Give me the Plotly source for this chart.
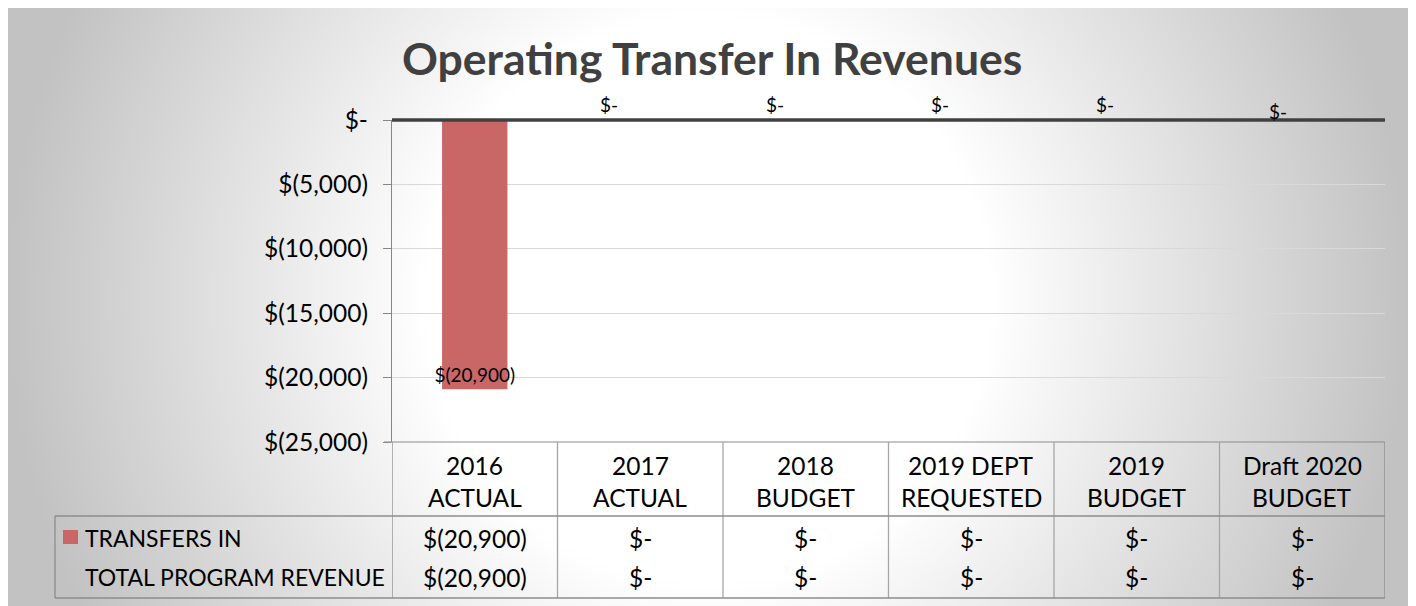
import base64
import plotly.graph_objects as go

# ---------------- data ----------------
col_line1 = ["2016", "2017", "2018", "2019 DEPT", "2019", "Draft 2020"]
col_line2 = ["ACTUAL", "ACTUAL", "BUDGET", "REQUESTED", "BUDGET", "BUDGET"]
categories = [a + " " + b for a, b in zip(col_line1, col_line2)]
transfers_in = [-20900, 0, 0, 0, 0, 0]
total_program_revenue = [-20900, 0, 0, 0, 0, 0]
row_labels = ["TRANSFERS IN", "TOTAL PROGRAM REVENUE"]
y_tickvals = [0, -5000, -10000, -15000, -20000, -25000]
title_text = "Operating Transfer In Revenues"


def money(v):
    if v == 0:
        return "$-"
    if v < 0:
        return "$({:,})".format(-v)
    return "${:,}".format(v)


y_ticktext = [money(v) for v in y_tickvals]

# ---------------- layout geometry (page pixels) ----------------
OFF = 8                      # default body margin of the html page
W, H = 1416 - OFF, 606 - OFF
PL, PR, PT, PB = 392, 1385, 120, 442   # plot area in page pixels
PW, PH = PR - PL, PB - PT


def px(x):
    return (x - PL) / PW


def py(y):
    return (PB - y) / PH


FONT = "Lato, 'Open Sans', sans-serif"
BAR_COLOR = "rgb(201,103,103)"
LINE_GRAY = "#8c8c8c"
INNER_GRAY = "#a6a6a6"

# ---------------- background radial gradient ----------------
bg_x0, bg_y0, bg_x1, bg_y1 = 8, 8, 1409, 606
bw, bh = bg_x1 - bg_x0, bg_y1 - bg_y0
svg = (
    f'<svg xmlns="http://www.w3.org/2000/svg" width="{bw}" height="{bh}" viewBox="0 0 {bw} {bh}">'
    f'<defs><radialGradient id="g" gradientUnits="userSpaceOnUse" cx="{708-bg_x0}" cy="{300-bg_y0}" r="{bw/2}">'
    '<stop offset="0" stop-color="#ffffff"/>'
    '<stop offset="0.40" stop-color="#ffffff"/>'
    '<stop offset="1" stop-color="#c2c2c2"/>'
    '</radialGradient></defs>'
    f'<rect x="0" y="0" width="{bw}" height="{bh}" fill="url(#g)"/></svg>'
)
svg_uri = "data:image/svg+xml;base64," + base64.b64encode(svg.encode()).decode()

fig = go.Figure()

fig.add_trace(go.Bar(
    x=categories,
    y=transfers_in,
    width=0.395,
    marker=dict(color=BAR_COLOR, line=dict(width=0)),
    text=[money(v) if v != 0 else "" for v in transfers_in],
    textposition="inside",
    insidetextanchor="end",
    constraintext="none",
    textangle=0,
    textfont=dict(family=FONT, size=19, color="#000000"),
    hoverinfo="skip",
    showlegend=False,
))

annotations = []
shapes = []

# title
annotations.append(dict(
    text="<b>" + title_text + "</b>", x=px(712), y=py(58), xref="paper", yref="paper",
    xanchor="center", yanchor="middle", showarrow=False,
    font=dict(family=FONT, size=44.5, color="#404040"),
))

# "$-" labels above the zero line for zero-valued bars
zero_xshift = [0, -31, -31, -31, -32, -24]
zero_yshift = [0, 0, 0, 0, 0, -7]
for i, (c, v) in enumerate(zip(categories, transfers_in)):
    if v == 0:
        annotations.append(dict(
            text=money(v), x=c, y=0, xref="x", yref="y",
            xanchor="center", yanchor="bottom", showarrow=False,
            xshift=zero_xshift[i], yshift=zero_yshift[i] + 2,
            font=dict(family=FONT, size=19, color="#000000"),
        ))

TFS = 24.5
# data table: header
for c, l1, l2 in zip(categories, col_line1, col_line2):
    annotations.append(dict(text=l1, x=c, y=py(465), xref="x", yref="paper",
                            xanchor="center", yanchor="middle", showarrow=False,
                            font=dict(family=FONT, size=TFS, color="#000000")))
    annotations.append(dict(text=l2, x=c, y=py(497), xref="x", yref="paper",
                            xanchor="center", yanchor="middle", showarrow=False,
                            font=dict(family=FONT, size=TFS, color="#000000")))

# data table: rows
row_y = [538, 577]
for label, values, yy in zip(row_labels, [transfers_in, total_program_revenue], row_y):
    annotations.append(dict(text=label, x=px(83), y=py(yy), xref="paper", yref="paper",
                            xanchor="left", yanchor="middle", showarrow=False,
                            font=dict(family=FONT, size=23, color="#000000")))
    for c, v in zip(categories, values):
        annotations.append(dict(text=money(v), x=c, y=py(yy), xref="x", yref="paper",
                                xanchor="center", yanchor="middle", showarrow=False,
                                font=dict(family=FONT, size=TFS, color="#000000")))

# zero line (thick) along the top of the plot
shapes.append(dict(type="line", xref="paper", yref="paper", x0=0, x1=1, y0=1, y1=1,
                   line=dict(color="#404040", width=3.5)))

# table top line (bottom of plot) incl. tick
shapes.append(dict(type="line", xref="paper", yref="paper", x0=px(384), x1=1, y0=0, y1=0,
                   line=dict(color=LINE_GRAY, width=1.2)))
# column separators
n = len(categories)
for i in range(n + 1):
    outer = i in (0, n)
    shapes.append(dict(type="line", xref="x", yref="paper", x0=i - 0.5, x1=i - 0.5,
                       y0=0, y1=py(598),
                       line=dict(color=LINE_GRAY if outer else INNER_GRAY, width=1.3)))
# row top & bottom lines and left border
for yy in (516, 598):
    shapes.append(dict(type="line", xref="paper", yref="paper", x0=px(55), x1=1,
                       y0=py(yy), y1=py(yy), line=dict(color=LINE_GRAY, width=1.3)))
shapes.append(dict(type="line", xref="paper", yref="paper", x0=px(55), x1=px(55),
                   y0=py(516), y1=py(598), line=dict(color=LINE_GRAY, width=1.3)))
# legend key
shapes.append(dict(type="rect", xref="paper", yref="paper", x0=px(63), x1=px(78),
                   y0=py(544), y1=py(530), fillcolor=BAR_COLOR, line=dict(width=0)))

fig.update_layout(
    width=W, height=H,
    margin=dict(l=PL - OFF, r=(W + OFF) - PR, t=PT - OFF, b=(H + OFF) - PB, pad=0),
    paper_bgcolor="#ffffff",
    plot_bgcolor="rgba(0,0,0,0)",
    showlegend=False,
    font=dict(family=FONT, color="#000000"),
    xaxis=dict(type="category", range=[-0.5, n - 0.5], showticklabels=False,
               showgrid=False, zeroline=False, showline=False, ticks=""),
    yaxis=dict(range=[-25000, 0], tickvals=y_tickvals, ticktext=y_ticktext,
               showgrid=True, gridcolor="#d9d9d9", gridwidth=1,
               zeroline=False, showline=True, linecolor="#868686", linewidth=1.3,
               ticks="outside", ticklen=8, tickcolor="#868686", tickwidth=1.3,
               ticklabelstandoff=10,
               tickfont=dict(family=FONT, size=TFS, color="#000000")),
    images=[dict(source=svg_uri, xref="paper", yref="paper",
                 x=px(bg_x0), y=py(bg_y0), sizex=bw / PW, sizey=bh / PH,
                 xanchor="left", yanchor="top", sizing="stretch", layer="below")],
    annotations=annotations,
    shapes=shapes,
)

fig.write_html("out.html")
